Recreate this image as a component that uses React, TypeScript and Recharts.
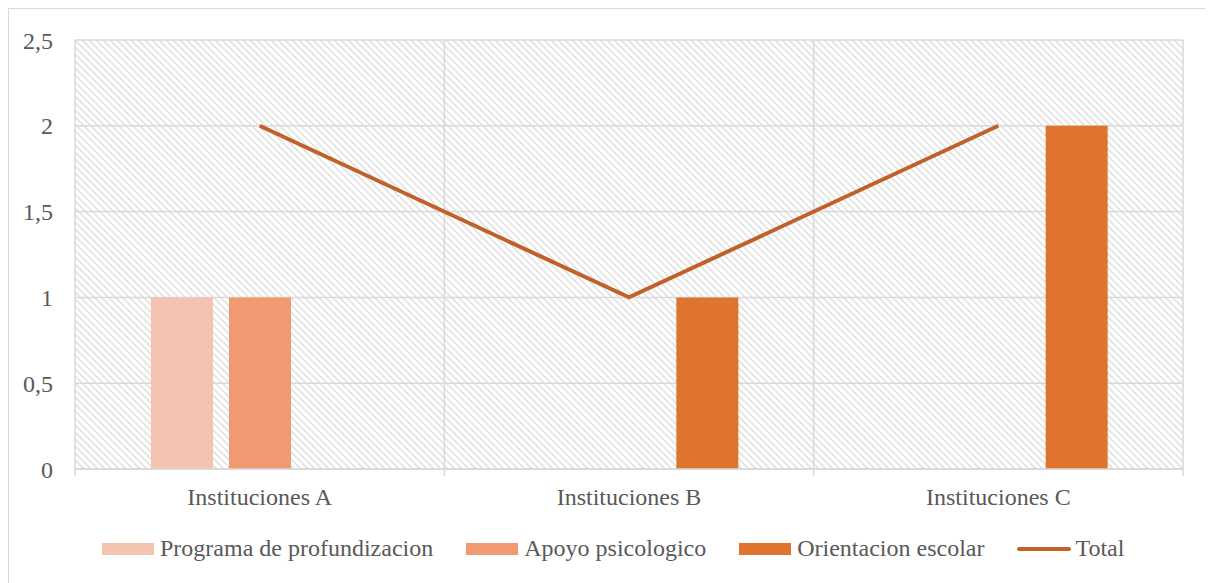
import React from 'react';
import {
  ComposedChart,
  Bar,
  Line,
  XAxis,
  YAxis,
  CartesianGrid,
  Legend,
} from 'recharts';

const categories = ['Instituciones A', 'Instituciones B', 'Instituciones C'];
const programa = [1, 0, 0];
const apoyo = [1, 0, 0];
const orientacion = [0, 1, 2];
const total = [2, 1, 2];
const yTicks = [0, 0.5, 1, 1.5, 2, 2.5];

const seriesNames = {
  programa: 'Programa de profundizacion',
  apoyo: 'Apoyo psicologico',
  orientacion: 'Orientacion escolar',
  total: 'Total',
};

const colors = {
  programa: '#F4C3AF',
  apoyo: '#EF9A71',
  orientacion: '#DF742F',
  total: '#C0612A',
};

const data = categories.map((name, i) => ({
  name,
  programa: programa[i],
  apoyo: apoyo[i],
  orientacion: orientacion[i],
  total: total[i],
}));

const FONT = '"Liberation Serif", "Times New Roman", serif';
const TEXT = '#595959';
const GRID = '#d9d9d9';
const TICK_MARGIN = 19;
const TICK_LEN = 7;

const legendItems = [
  { key: 'programa', type: 'rect' },
  { key: 'apoyo', type: 'rect' },
  { key: 'orientacion', type: 'rect' },
  { key: 'total', type: 'line' },
] as const;

function CustomLegend() {
  return (
    <div
      style={{
        display: 'flex',
        alignItems: 'center',
        fontFamily: FONT,
        fontSize: 24,
        color: TEXT,
        whiteSpace: 'nowrap',
      }}
    >
      {legendItems.map((it, i) => (
        <div
          key={it.key}
          style={{ display: 'flex', alignItems: 'center', marginRight: i < legendItems.length - 1 ? 33 : 0 }}
        >
          {it.type === 'rect' ? (
            <div style={{ width: 52, height: 12, background: (colors as any)[it.key], marginRight: 6 }} />
          ) : (
            <div
              style={{
                width: 54,
                height: 4,
                borderRadius: 2,
                background: (colors as any)[it.key],
                marginRight: 4,
              }}
            />
          )}
          <span>{(seriesNames as any)[it.key]}</span>
        </div>
      ))}
    </div>
  );
}

function CatTick(props: any) {
  const { x, y, payload, index, visibleTicksCount, width } = props;
  const band = width / (visibleTicksCount || categories.length);
  const axisY = y - TICK_MARGIN;
  const left = x - band / 2;
  const right = x + band / 2;
  return (
    <g>
      <line x1={left} x2={left} y1={axisY} y2={axisY + TICK_LEN} stroke={GRID} strokeWidth={1.5} />
      {index === visibleTicksCount - 1 && (
        <line x1={right} x2={right} y1={axisY} y2={axisY + TICK_LEN} stroke={GRID} strokeWidth={1.5} />
      )}
      <text
        x={x}
        y={y}
        dy="0.71em"
        textAnchor="middle"
        fill={TEXT}
        fontSize={24}
        fontFamily={FONT}
      >
        {payload.value}
      </text>
    </g>
  );
}

const boundaryGenerator = ({ offset }: any) =>
  Array.from({ length: categories.length + 1 }, (_, i) => offset.left + (offset.width * i) / categories.length);

export default function App() {
  return (
    <div
      style={{
        position: 'relative',
        width: 1199,
        height: 590,
        border: `1px solid ${GRID}`,
        background: '#fff',
      }}
    >
      <ComposedChart
        width={1199}
        height={590}
        data={data}
        margin={{ top: 31, right: 25, left: 0, bottom: 90 }}
        barCategoryGap={76}
        barGap={16}
      >
        <defs>
          <pattern id="hatch" patternUnits="userSpaceOnUse" width="7" height="7">
            <rect x="0" y="0" width="7" height="7" fill="#ffffff" />
            <path d="M-1,-1 L8,8 M-1,6 L1,8 M6,-1 L8,1" stroke="#dcdcdc" strokeWidth="1.3" />
          </pattern>
        </defs>
        <CartesianGrid
          fill="url(#hatch)"
          fillOpacity={1}
          stroke={GRID}
          strokeWidth={1.5}
          verticalCoordinatesGenerator={boundaryGenerator}
        />
        <XAxis
          dataKey="name"
          type="category"
          height={40}
          axisLine={{ stroke: GRID, strokeWidth: 1.5 }}
          tickLine={false}
          tickSize={0}
          tickMargin={TICK_MARGIN}
          interval={0}
          tick={<CatTick />}
        />
        <YAxis
          width={66}
          domain={[0, 2.5]}
          ticks={yTicks}
          axisLine={false}
          tickLine={false}
          tickMargin={16}
          tickFormatter={(v: number) => String(v).replace('.', ',')}
          tick={{ fill: TEXT, fontSize: 24, fontFamily: FONT }}
        />
        <Bar dataKey="programa" name={seriesNames.programa} fill={colors.programa} isAnimationActive={false} />
        <Bar dataKey="apoyo" name={seriesNames.apoyo} fill={colors.apoyo} isAnimationActive={false} />
        <Bar dataKey="orientacion" name={seriesNames.orientacion} fill={colors.orientacion} isAnimationActive={false} />
        <Line
          type="linear"
          dataKey="total"
          name={seriesNames.total}
          stroke={colors.total}
          strokeWidth={4}
          dot={false}
          activeDot={false}
          isAnimationActive={false}
        />
        <Legend
          layout="horizontal"
          verticalAlign="middle"
          align="center"
          content={<CustomLegend />}
          wrapperStyle={{ top: 526, left: 93, width: 1100, height: 28 }}
        />
      </ComposedChart>
    </div>
  );
}
